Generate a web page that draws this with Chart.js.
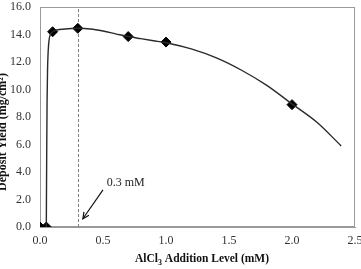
<!DOCTYPE html>
<html>
<head>
<meta charset="utf-8">
<script src="https://cdn.jsdelivr.net/npm/chart.js@4"></script>
<style>
  html, body { margin: 0; padding: 0; background: #fff; }
  #wrap { width: 361px; height: 269px; }
</style>
</head>
<body>
<div id="wrap"><canvas id="chart" width="361" height="269"></canvas></div>
<script>
// ---------------- Data ----------------
const measuredX = [0, 0.05, 0.1, 0.3, 0.7, 1.0, 2.0];
const measuredY = [0, 0, 14.2, 14.45, 13.85, 13.45, 8.9];

// fitted trend line
const fitX = [0.05, 0.053, 0.056, 0.06, 0.065, 0.072, 0.08, 0.1, 0.2, 0.3, 0.4, 0.5, 0.6, 0.7, 0.8, 0.9, 1.0, 1.2, 1.4, 1.6, 1.8, 2.0, 2.2, 2.39];
const fitY = [0, 5, 9, 11.5, 12.8, 13.6, 13.95, 14.2, 14.4, 14.45, 14.4, 14.25, 14.05, 13.85, 13.7, 13.55, 13.4, 12.95, 12.3, 11.4, 10.3, 8.95, 7.6, 5.9];

const xTicks = [0, 0.5, 1.0, 1.5, 2.0, 2.5];
const yTicks = [0, 2, 4, 6, 8, 10, 12, 14, 16];

const markerLine = 0.3;
const arrowFrom = [0.5, 2.7];
const arrowTo = [0.34, 0.6];
const noteText = "0.3 mM";
const notePos = [0.53, 3.2];

const FONT = "'Liberation Serif', 'Times New Roman', serif";

// ---------------- Plugins ----------------
const frameAndNotes = {
  id: "frameAndNotes",
  beforeDatasetsDraw(chart) {
    const { ctx, chartArea: a, scales: { x, y } } = chart;
    ctx.save();
    // frame
    ctx.strokeStyle = "#9a9a9a";
    ctx.lineWidth = 1;
    ctx.strokeRect(a.left + 0.5, a.top + 0.5, a.right - a.left - 1, a.bottom - a.top - 1);
    // dashed 0.3 mM line
    const px = Math.round(x.getPixelForValue(markerLine)) + 0.5;
    ctx.setLineDash([3, 2]);
    ctx.strokeStyle = "#808080";
    ctx.beginPath();
    ctx.moveTo(px, y.getPixelForValue(0));
    ctx.lineTo(px, y.getPixelForValue(16));
    ctx.stroke();
    ctx.restore();
  },
  afterDatasetsDraw(chart) {
    const { ctx, scales: { x, y } } = chart;
    ctx.save();
    const x1 = x.getPixelForValue(arrowFrom[0]), y1 = y.getPixelForValue(arrowFrom[1]);
    const x2 = x.getPixelForValue(arrowTo[0]), y2 = y.getPixelForValue(arrowTo[1]);
    ctx.strokeStyle = "#111";
    ctx.lineWidth = 1.2;
    ctx.beginPath();
    ctx.moveTo(x1, y1);
    ctx.lineTo(x2, y2);
    ctx.stroke();
    const ang = Math.atan2(y2 - y1, x2 - x1);
    const len = 7, spread = 0.45;
    ctx.beginPath();
    ctx.moveTo(x2 - len * Math.cos(ang - spread), y2 - len * Math.sin(ang - spread));
    ctx.lineTo(x2, y2);
    ctx.lineTo(x2 - len * Math.cos(ang + spread), y2 - len * Math.sin(ang + spread));
    ctx.stroke();
    ctx.font = "12px " + FONT;
    ctx.textBaseline = "middle";
    ctx.fillStyle = "#222";
    ctx.fillText(noteText, x.getPixelForValue(notePos[0]), y.getPixelForValue(notePos[1]));

    // axis titles (drawn by hand for the subscript)
    ctx.fillStyle = "#111";
    ctx.textBaseline = "alphabetic";
    const big = "bold 11.5px " + FONT, small = "bold 8px " + FONT;
    const parts = [["AlCl", big, 0], ["3", small, 3], [" Addition Level (mM)", big, 0]];
    let total = 0;
    parts.forEach(p => { ctx.font = p[1]; total += ctx.measureText(p[0]).width; });
    let cx = 202 - total / 2;
    parts.forEach(p => {
      ctx.font = p[1];
      ctx.fillText(p[0], cx, 262 + p[2]);
      cx += ctx.measureText(p[0]).width;
    });

    ctx.translate(3, 132);
    ctx.rotate(-Math.PI / 2);
    ctx.font = "bold 12px " + FONT;
    ctx.textAlign = "center";
    ctx.textBaseline = "middle";
    ctx.fillText("Deposit Yield (mg/cm²)", 0, 0);
    ctx.restore();
  }
};

// ---------------- Chart ----------------
new Chart(document.getElementById("chart"), {
  type: "scatter",
  data: {
    datasets: [
      {
        label: "Fit",
        data: fitX.map((v, i) => ({ x: v, y: fitY[i] })),
        showLine: true,
        borderColor: "#2a2a2a",
        borderWidth: 1.4,
        pointRadius: 0,
        cubicInterpolationMode: "monotone"
      },
      {
        label: "Measured",
        data: measuredX.map((v, i) => ({ x: v, y: measuredY[i] })),
        pointStyle: "rectRot",
        pointRadius: 5,
        backgroundColor: "#000",
        borderColor: "#000",
        borderWidth: 1
      }
    ]
  },
  options: {
    responsive: false,
    animation: false,
    layout: { padding: { top: 7, right: 5, left: 0, bottom: 0 } },
    plugins: { legend: { display: false }, tooltip: { enabled: false } },
    scales: {
      x: {
        type: "linear",
        min: 0, max: 2.5,
        afterBuildTicks: s => { s.ticks = xTicks.map(v => ({ value: v })); },
        afterFit: s => { s.height = 42; s.paddingLeft = 0; s.paddingRight = 0; },
        grid: { display: false, drawOnChartArea: false, drawTicks: true, tickLength: 4, color: "#9a9a9a" },
        border: { display: true, color: "#9a9a9a" },
        ticks: { color: "#333", font: { family: FONT, size: 12 }, padding: 3, callback: v => v.toFixed(1) }
      },
      y: {
        type: "linear",
        min: 0, max: 16,
        afterBuildTicks: s => { s.ticks = yTicks.map(v => ({ value: v })); },
        afterFit: s => { s.width = 40; s.paddingTop = 0; s.paddingBottom = 0; },
        grid: { display: false, drawOnChartArea: false, drawTicks: true, tickLength: 4, color: "#9a9a9a" },
        border: { display: true, color: "#9a9a9a" },
        ticks: { color: "#333", font: { family: FONT, size: 12 }, padding: 5, callback: v => v.toFixed(1) }
      }
    }
  },
  plugins: [frameAndNotes]
});
</script>
</body>
</html>
